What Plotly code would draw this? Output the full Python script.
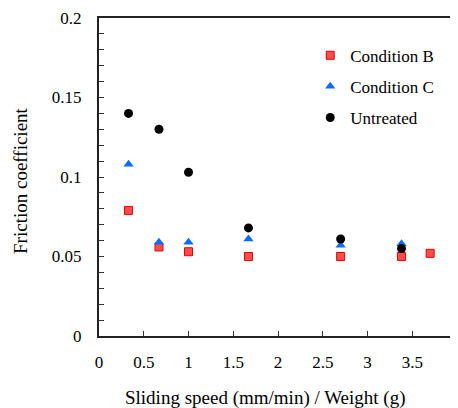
import plotly.graph_objects as go

x_untreated = [0.33, 0.67, 1.0, 1.67, 2.7, 3.38]
y_untreated = [0.140, 0.130, 0.103, 0.068, 0.061, 0.055]

x_cond_c = [0.33, 0.67, 1.0, 1.67, 2.7, 3.38]
y_cond_c = [0.108, 0.059, 0.059, 0.061, 0.057, 0.058]

x_cond_b = [0.33, 0.67, 1.0, 1.67, 2.7, 3.38, 3.7]
y_cond_b = [0.079, 0.056, 0.053, 0.050, 0.050, 0.050, 0.052]

FONT = "Liberation Serif, Times New Roman, serif"

fig = go.Figure()
fig.add_trace(go.Scatter(x=x_cond_b, y=y_cond_b, mode="markers", name="Condition B",
                         legendgroup="b",
                         marker=dict(symbol="square", size=8, color="#FF4D4D",
                                     line=dict(color="#E80000", width=1))))
fig.add_trace(go.Scatter(x=x_cond_c, y=y_cond_c, mode="markers", name="Condition C",
                         legendgroup="c",
                         marker=dict(symbol="triangle-up", size=9, color="#0A6CFF",
                                     line=dict(width=0))))
fig.add_trace(go.Scatter(x=x_untreated, y=y_untreated, mode="markers", name="Untreated",
                         legendgroup="u",
                         marker=dict(symbol="circle", size=9, color="black",
                                     line=dict(width=0))))

# page body has an 8px margin, so the figure is 8px smaller on each axis
fig.update_layout(
    width=450, height=400,
    margin=dict(l=91, r=1, t=10, b=72, autoexpand=False),
    paper_bgcolor="white", plot_bgcolor="white",
    font=dict(family=FONT, size=17, color="black"),
    showlegend=True,
    legend=dict(x=0.59, y=0.938, xanchor="left", yanchor="top",
                bgcolor="rgba(0,0,0,0)", font=dict(size=17, family=FONT, color="black"),
                tracegroupgap=6, itemwidth=30),
    annotations=[
        dict(text="Sliding speed (mm/min) / Weight (g)", x=0.4637, y=-0.195,
             xref="paper", yref="paper", xanchor="center", yanchor="middle",
             showarrow=False, font=dict(size=19, family=FONT, color="black")),
        dict(text="Friction coefficient", x=-0.218, y=0.4906, textangle=-90,
             xref="paper", yref="paper", xanchor="center", yanchor="middle",
             showarrow=False, font=dict(size=19, family=FONT, color="black")),
    ],
)
fig.update_xaxes(
    range=[0, 4], tickvals=[0, 0.5, 1, 1.5, 2, 2.5, 3, 3.5, 4],
    ticktext=["0", "0.5", "1", "1.5", "2", "2.5", "3", "3.5", "4"],
    ticks="inside", ticklen=5, tickwidth=1, tickcolor="#333",
    tickfont=dict(color="black"),
    showline=True, linewidth=2, linecolor="#222", mirror=True,
    showgrid=False, zeroline=False, ticklabelstandoff=10, automargin=False,
)
fig.update_yaxes(
    range=[0, 0.2], tickvals=[0, 0.05, 0.1, 0.15, 0.2],
    ticktext=["0", "0.05", "0.1", "0.15", "0.2"],
    ticks="inside", ticklen=5, tickwidth=1, tickcolor="#333",
    tickfont=dict(color="black"),
    minor=dict(dtick=0.01, ticks="inside", ticklen=5, tickwidth=1, tickcolor="#333", showgrid=False),
    showline=True, linewidth=2, linecolor="#222", mirror=True,
    showgrid=False, zeroline=False, ticklabelstandoff=12, automargin=False,
)

fig.write_html("out.html")
